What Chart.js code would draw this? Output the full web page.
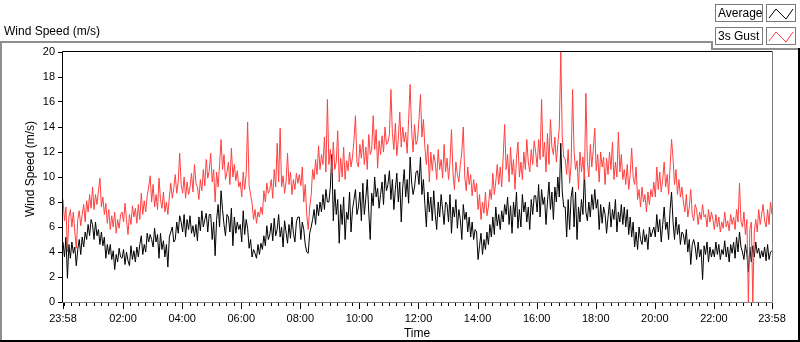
<!DOCTYPE html>
<html><head><meta charset="utf-8">
<script src="https://cdn.jsdelivr.net/npm/chart.js@4.4.1/dist/chart.umd.min.js"></script>
<style>
html,body{margin:0;padding:0;background:#fff;}
body{width:800px;height:342px;position:relative;overflow:hidden;font-family:"Liberation Sans",Arial,sans-serif;color:#000;}
#c{position:absolute;left:0;top:0;}
.ln{position:absolute;}
.txt{position:absolute;font-size:12px;line-height:14px;white-space:nowrap;}
.lbox{position:absolute;box-sizing:border-box;border:1px solid #7a7a7a;background:#fff;}
</style></head>
<body>
<canvas id="c" width="800" height="342"></canvas>
<div class="txt" id="topTitle" style="left:4px;top:24px;">Wind Speed (m/s)</div>
<div class="txt" id="yTitle" style="left:-30px;top:162px;width:120px;text-align:center;transform:rotate(-90deg);">Wind Speed (m/s)</div>
<div class="txt" id="xTitle" style="left:387px;top:326px;width:60px;text-align:center;">Time</div>
<!-- frame -->
<div class="ln" style="left:0;top:41px;width:713px;height:2px;background:#8e8e8e;"></div>
<div class="ln" style="left:0;top:41px;width:2px;height:300px;background:#8e8e8e;"></div>
<div class="ln" style="left:711px;top:41px;width:2px;height:9px;background:#8e8e8e;"></div>
<div class="ln" style="left:711px;top:48px;width:89px;height:2px;background:#8e8e8e;"></div>
<div class="ln" style="left:0;top:340px;width:800px;height:2px;background:#000;"></div>
<div class="ln" style="left:798px;top:48px;width:2px;height:294px;background:#000;"></div>
<!-- legend -->
<div class="lbox" style="left:715px;top:4px;width:48px;height:18px;"><span class="txt" style="left:2px;top:1px;">Average</span></div>
<div class="lbox" style="left:766px;top:4px;width:30px;height:18px;">
<svg width="28" height="16" style="position:absolute;left:0;top:0"><polyline points="2,13 9,4 19,14 26,4" fill="none" stroke="#000" stroke-width="1"/></svg></div>
<div class="lbox" style="left:715px;top:27px;width:48px;height:18px;"><span class="txt" style="left:2px;top:1px;">3s Gust</span></div>
<div class="lbox" style="left:766px;top:27px;width:30px;height:18px;">
<svg width="28" height="16" style="position:absolute;left:0;top:0"><polyline points="2,13 9,4 19,14 26,4" fill="none" stroke="#ff4040" stroke-width="1"/></svg></div>
<script>
// ---- data: 3-minute samples starting at 23:58 (minute offset 0), one row per hour ----
const STEP_MIN = 3;
const START_LABEL = "23:58";
const START_CLOCK_MIN = 23*60 + 58;
const Y_TICKS = [0,2,4,6,8,10,12,14,16,18,20];
const seriesNames = ["Average", "3s Gust"];

const gust = [
  8.2,6.5,7.6,4.0,6.8,7.4,6.0,7.2,5.6,4.3,6.6,7.3,6.1,7.0,7.8,6.4,8.1,7.2,8.6,7.5,
  9.2,7.4,8.6,7.8,8.9,9.9,7.6,8.4,7.0,7.9,6.3,7.4,5.8,6.9,6.0,7.2,5.5,6.6,5.9,7.0,
  7.2,6.4,7.9,6.6,5.4,7.0,6.2,7.7,6.8,7.5,6.3,7.8,6.6,8.7,7.0,8.1,7.2,8.5,9.2,10.1,
  8.0,9.4,7.6,8.6,7.4,9.9,8.2,7.5,8.8,7.2,8.0,7.0,8.4,9.5,8.3,9.1,10.2,8.7,9.6,11.9,
  9.4,8.7,10.0,8.3,9.6,8.6,9.2,10.3,8.8,11.0,9.5,9.2,8.2,9.8,8.9,10.6,9.3,11.4,9.9,10.5,
  11.9,9.6,10.6,8.0,10.4,9.2,11.0,13.0,10.6,11.8,9.8,10.4,11.2,9.4,12.3,10.0,11.0,9.7,10.5,9.2,
  9.6,8.4,10.4,9.0,10.2,14.4,9.3,8.6,7.9,6.6,7.4,6.3,7.2,6.8,7.6,7.0,8.9,8.0,9.5,8.7,
  9.0,9.8,8.3,10.6,9.2,12.7,9.6,13.9,9.2,10.1,8.7,9.6,11.9,9.4,10.4,8.6,9.8,9.0,10.3,9.5,
  10.2,9.3,10.8,8.0,9.4,7.0,5.8,7.6,8.5,10.6,9.8,11.4,10.2,12.5,10.6,11.8,11.0,13.2,10.4,16.2,
  11.0,12.2,10.3,12.8,10.6,11.2,13.7,9.6,11.5,10.0,12.4,9.8,11.3,10.5,12.0,10.8,11.6,13.0,14.9,11.2,
  10.8,12.6,11.5,13.0,11.0,12.4,10.6,13.4,11.8,12.2,14.9,12.2,13.8,10.7,12.9,11.8,13.3,12.0,14.0,12.6,
  12.8,13.4,17.0,13.5,12.2,14.3,11.7,13.0,15.2,12.4,14.0,12.8,13.6,11.9,14.6,17.4,13.8,12.0,14.2,12.6,
  13.0,14.6,16.6,13.2,14.6,12.4,11.0,12.6,9.6,12.0,10.5,11.8,11.2,9.8,12.2,10.6,11.4,9.9,12.6,10.4,
  11.5,9.8,11.2,13.8,10.4,9.0,11.2,10.2,9.6,11.0,12.0,14.0,10.0,8.9,10.8,9.4,10.2,8.5,9.8,8.8,
  9.5,7.4,8.6,6.6,8.0,7.1,8.8,6.9,7.6,9.0,8.2,10.3,8.6,9.6,11.0,9.4,10.8,9.2,11.6,14.2,
  10.6,11.8,9.6,12.4,10.2,11.4,9.0,11.5,12.8,10.0,11.2,9.8,12.0,10.6,13.0,11.2,10.4,12.2,11.0,12.9,
  12.0,10.8,13.0,11.4,16.2,11.6,12.8,10.4,13.5,11.0,14.6,12.4,11.8,13.2,11.2,12.6,14.0,20.0,13.2,11.6,
  11.4,10.2,12.2,9.5,11.0,17.0,12.0,10.6,11.3,9.0,12.0,10.4,11.6,9.8,16.7,11.2,10.0,12.6,10.8,12.2,
  13.9,10.5,11.8,9.6,12.0,10.8,11.6,9.4,11.5,10.2,12.0,10.6,12.8,9.8,11.2,10.0,13.6,10.4,11.8,9.8,
  10.6,9.4,11.0,9.0,10.2,12.3,10.0,9.4,10.8,8.2,9.0,7.6,9.2,8.0,8.6,7.2,8.8,7.8,9.0,8.4,
  9.6,8.4,10.8,9.0,10.4,8.8,9.8,11.2,9.2,10.2,8.6,10.8,13.0,11.5,9.4,10.6,8.6,9.8,8.4,9.2,
  8.0,7.2,8.6,6.8,7.6,9.0,7.0,6.5,7.8,7.4,6.2,7.2,6.6,7.8,6.8,7.0,6.0,7.4,6.4,7.2,
  6.6,5.8,7.0,6.0,6.8,5.6,6.4,5.9,7.2,6.0,6.5,5.7,7.0,6.2,6.8,5.8,7.4,6.4,9.5,6.4,
  6.0,7.2,5.4,6.6,0,5.8,6.4,0,5.6,6.6,5.6,7.4,6.2,7.0,7.8,6.5,6.0,7.4,6.2,8.0,
  7.0
];
const average = [
  4.8,3.6,5.2,1.9,4.6,3.5,4.8,3.9,4.4,2.9,4.2,5.0,3.8,5.2,4.4,5.6,5.0,6.2,5.3,6.6,
  6.2,5.0,6.4,5.3,5.8,4.6,5.6,4.5,5.2,3.5,4.6,3.8,4.6,3.4,4.1,2.6,3.8,3.2,4.3,3.6,
  3.5,4.2,3.0,4.0,3.3,2.9,4.5,3.4,4.1,3.2,4.4,3.6,4.6,5.3,3.8,4.6,4.0,5.5,4.8,5.4,
  5.0,4.4,5.9,4.8,5.4,3.5,5.5,4.2,4.9,3.6,4.6,2.8,5.2,5.6,6.0,4.8,5.0,6.4,5.5,6.9,
  6.4,5.6,7.0,5.2,6.6,5.8,6.9,5.5,6.1,5.2,6.2,4.9,6.8,5.7,7.3,6.0,6.6,7.1,5.6,7.0,
  7.0,5.0,6.4,3.7,6.6,7.8,6.0,8.9,7.4,6.2,5.3,7.0,6.8,5.6,7.5,4.5,6.8,5.5,6.4,5.8,
  6.2,4.8,7.3,5.4,6.6,5.9,4.3,5.0,3.6,4.2,3.9,3.5,4.6,3.8,4.7,4.2,5.3,4.5,6.1,5.0,
  5.4,6.3,4.9,6.7,5.3,5.8,7.0,5.2,6.0,4.4,6.5,5.6,4.7,6.2,5.1,6.8,5.5,4.8,6.4,6.8,
  6.8,5.0,6.4,5.8,4.6,4.0,3.9,5.5,6.0,6.6,7.4,6.2,7.8,6.9,8.0,7.2,8.6,7.4,9.0,8.0,
  8.0,9.2,11.8,6.5,9.0,7.0,8.2,4.7,7.8,6.2,8.4,5.0,7.2,6.6,8.8,5.6,7.4,8.2,9.0,7.0,
  7.6,8.8,6.5,9.5,7.0,8.3,9.8,7.2,5.0,8.7,7.7,10.0,8.4,9.1,7.5,8.6,9.6,7.8,10.2,8.9,
  9.4,10.5,8.2,9.8,7.4,9.0,10.3,8.0,9.6,6.4,9.2,10.6,8.4,9.8,7.9,11.6,9.6,8.6,9.2,10.4,
  10.5,9.4,11.6,8.6,9.8,7.8,6.0,8.8,7.2,8.4,6.5,8.9,7.0,5.8,8.0,6.8,8.6,7.4,6.2,8.0,
  7.8,6.4,8.6,5.5,7.6,6.8,8.2,5.9,7.4,6.6,5.0,7.8,6.6,7.2,5.6,6.8,5.2,6.4,5.0,5.8,
  5.6,3.4,4.5,5.5,3.8,5.0,4.2,5.6,4.6,6.2,5.2,6.8,5.4,7.6,6.1,7.0,5.8,7.3,6.4,7.8,
  7.0,8.4,6.2,7.7,5.5,8.0,6.8,8.8,5.9,7.4,6.0,8.6,7.2,8.0,6.4,7.6,5.8,8.2,7.0,8.5,
  8.5,7.2,9.4,6.8,9.0,7.8,8.4,6.2,8.0,9.6,7.4,8.8,6.6,9.2,8.0,10.0,8.4,12.7,8.8,7.6,
  7.6,5.2,8.2,5.8,8.4,9.2,6.0,8.8,5.0,7.6,6.4,8.2,7.0,10.4,7.2,6.5,8.0,6.8,8.6,7.4,
  9.0,7.5,8.2,5.8,7.8,6.3,7.6,7.0,5.5,6.8,8.0,6.0,7.4,6.6,8.2,5.6,7.2,6.4,7.8,6.2,
  7.6,6.0,7.4,5.4,6.8,5.2,6.4,4.4,5.6,4.2,6.0,5.0,4.6,5.8,4.8,5.4,4.2,6.0,5.2,5.6,
  6.0,5.2,7.0,5.6,6.6,4.8,6.2,7.6,5.8,6.4,5.0,7.4,8.8,6.4,5.0,6.8,5.4,6.2,4.6,5.6,
  5.4,4.6,5.8,4.0,5.0,3.0,4.6,5.0,4.4,3.4,4.8,3.6,4.2,1.8,4.5,3.8,4.8,3.2,4.4,3.6,
  4.2,3.6,4.8,3.8,4.6,3.4,4.2,3.8,4.9,3.6,4.4,3.2,4.6,3.9,4.8,3.5,5.2,4.0,5.6,4.4,
  4.0,3.4,4.6,3.8,2.4,4.4,3.2,4.5,3.6,4.8,3.9,4.3,3.5,4.1,3.6,4.4,3.3,4.6,3.4,4.0,
  4.1
];
const minutes = average.map((_, i) => i * STEP_MIN);
const TOTAL_MIN = 1440;

function clockLabel(offset){
  if (offset === 0 || offset === TOTAL_MIN) return START_LABEL;
  const m = (START_CLOCK_MIN + offset) % 1440;
  const hh = Math.floor(m/60), mm = m%60;
  if (mm === 0 && hh % 2 === 0 && hh !== 0) return String(hh).padStart(2,'0') + ':00';
  return '';
}

const tickPlugin = {
  id: 'frameTicks',
  afterDraw(chart){
    const {ctx, chartArea: a, scales: {x}} = chart;
    ctx.save();
    ctx.lineWidth = 1;
    ctx.strokeStyle = '#000';
    x.ticks.forEach(t => {
      const px = Math.round(x.getPixelForValue(t.value)) + 0.5;
      const len = t.label ? 6 : 3;
      ctx.beginPath();
      ctx.moveTo(px, a.bottom + 1);
      ctx.lineTo(px, a.bottom + 1 + len);
      ctx.stroke();
    });
    ctx.strokeStyle = '#000';
    ctx.beginPath();
    ctx.moveTo(a.left - 0.5, a.bottom + 1);
    ctx.lineTo(a.left - 0.5, a.top - 0.5);
    ctx.lineTo(a.right + 0.5, a.top - 0.5);
    ctx.stroke();
    ctx.strokeStyle = '#808080';
    ctx.beginPath();
    ctx.moveTo(a.right + 0.5, a.top - 0.5);
    ctx.lineTo(a.right + 0.5, a.bottom + 0.5);
    ctx.lineTo(a.left - 0.5, a.bottom + 0.5);
    ctx.stroke();
    ctx.restore();
  }
};

new Chart(document.getElementById('c'), {
  type: 'line',
  data: {
    datasets: [
      { label: seriesNames[1], data: minutes.map((m,i)=>({x:m, y:gust[i]})),
        borderColor: '#ff4040', borderWidth: 1, pointRadius: 0, tension: 0, order: 0 },
      { label: seriesNames[0], data: minutes.map((m,i)=>({x:m, y:average[i]})),
        borderColor: '#000000', borderWidth: 1, pointRadius: 0, tension: 0, order: 1 }
    ]
  },
  options: {
    responsive: false,
    animation: false,
    devicePixelRatio: 1,
    layout: { padding: { top: 52, right: 28, left: 0, bottom: 0 } },
    plugins: { legend: { display: false }, tooltip: { enabled: false } },
    scales: {
      x: {
        type: 'linear', min: 0, max: TOTAL_MIN,
        afterFit(s){ s.height = 40; },
        afterBuildTicks(s){
          const t = [{value: 0}];
          for (let v = 2; v < TOTAL_MIN; v += 15) t.push({value: v});
          t.push({value: TOTAL_MIN});
          s.ticks = t;
        },
        grid: { display: true, drawOnChartArea: false, drawTicks: false },
        border: { display: false },
        ticks: {
          autoSkip: false, maxRotation: 0, minRotation: 0, padding: 10,
          color: '#000', font: { family: 'Liberation Sans', size: 11 },
          callback: (v) => clockLabel(v)
        }
      },
      y: {
        min: 0, max: 20,
        afterFit(s){ s.width = 63; },
        afterBuildTicks(s){ s.ticks = Y_TICKS.map(v => ({value: v})); },
        grid: { drawOnChartArea: false, drawTicks: true, tickLength: 5, color: '#000' },
        border: { display: false },
        ticks: { padding: 3, color: '#000', font: { family: 'Liberation Sans', size: 11 } }
      }
    }
  },
  plugins: [tickPlugin]
});
</script>
</body></html>
